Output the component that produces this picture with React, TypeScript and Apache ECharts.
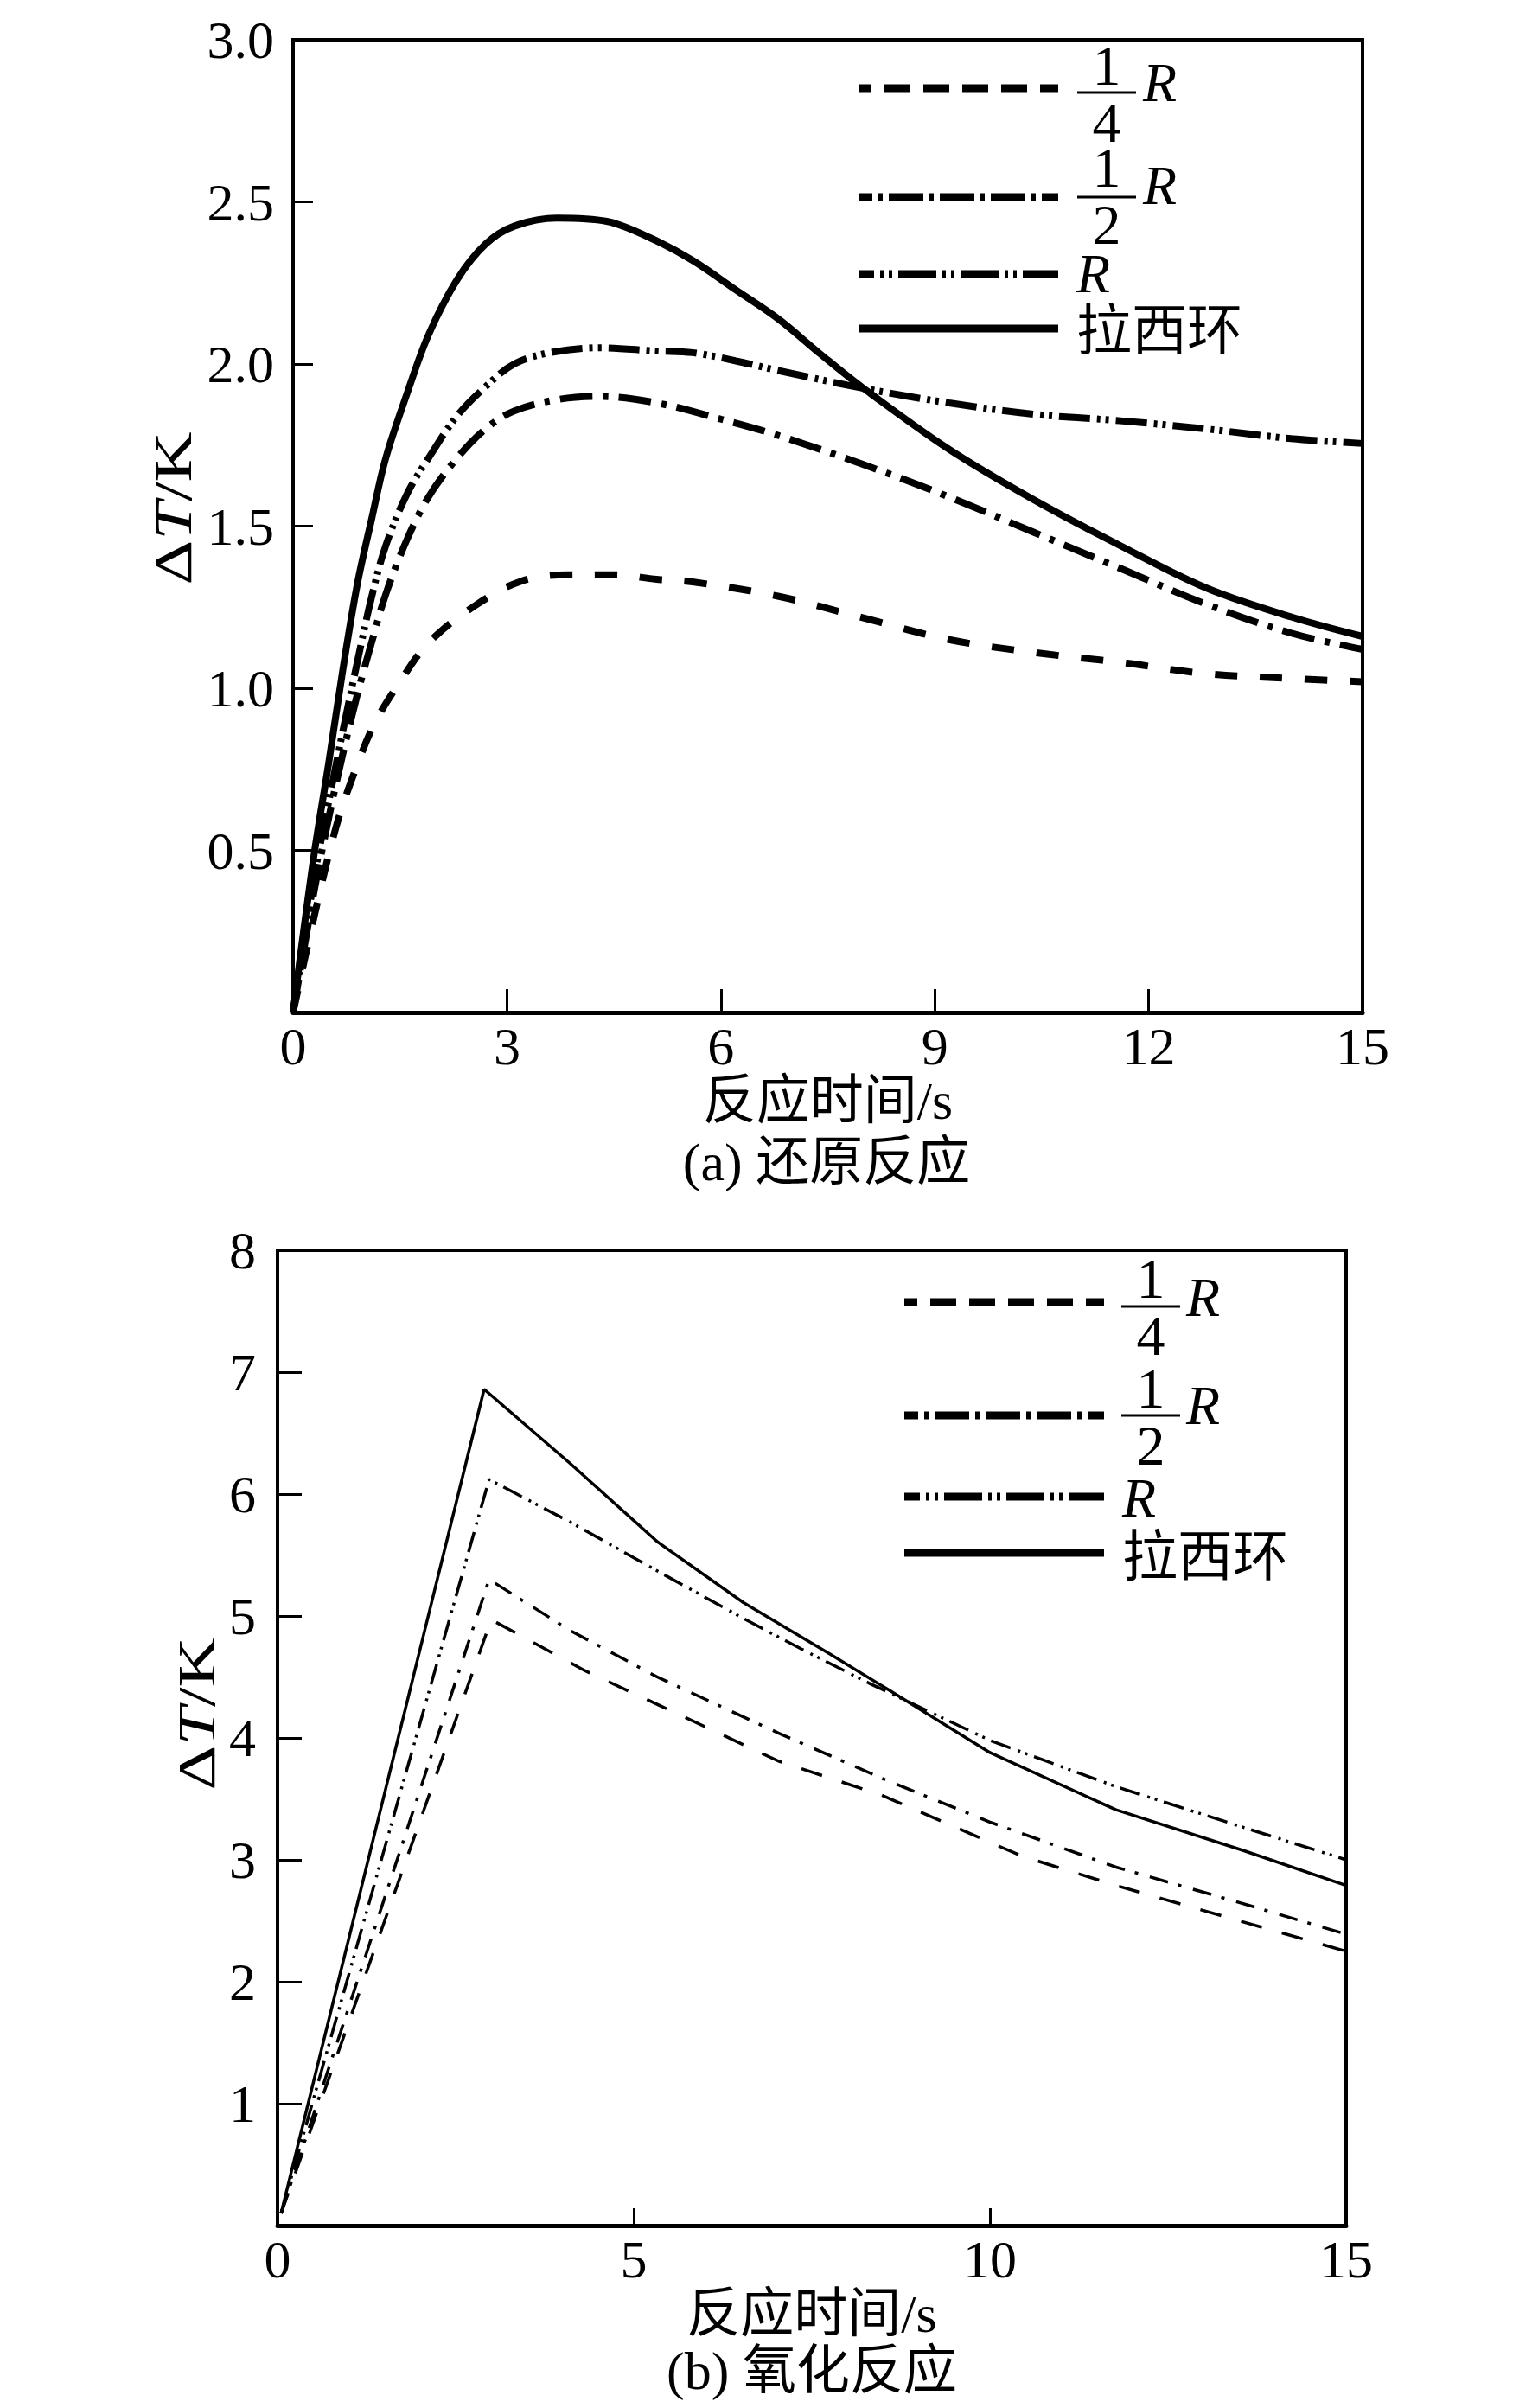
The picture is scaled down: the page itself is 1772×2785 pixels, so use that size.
import React, { useEffect, useRef } from "react";
import * as echarts from "echarts";

// ---------- data: (a) reduction reaction ----------
const A_T_QUARTER = [0, 0.3, 0.6, 0.86, 1.14, 1.5, 1.9, 2.56, 3.2, 3.85, 4.5, 5.1, 5.6, 6.8, 8, 9.2, 10.4, 11.6, 12.8, 14, 15];
const A_V_QUARTER = [0, 0.3, 0.57, 0.74, 0.89, 1.02, 1.14, 1.256, 1.33, 1.35, 1.35, 1.336, 1.328, 1.284, 1.217, 1.15, 1.11, 1.08, 1.045, 1.03, 1.02];

const A_T_HALF = [0, 0.3, 0.5, 0.7, 0.9, 1.1, 1.3, 1.6, 1.9, 2.3, 2.7, 3.1, 3.7, 4.3, 5.1, 6.0, 6.8, 8, 9.2, 10.4, 11.6, 12.8, 14, 15];
const A_V_HALF = [0, 0.38, 0.6, 0.8, 0.98, 1.14, 1.29, 1.46, 1.59, 1.71, 1.8, 1.855, 1.89, 1.9, 1.88, 1.83, 1.78, 1.69, 1.59, 1.48, 1.37, 1.26, 1.17, 1.12];

const A_T_R = [0, 0.3, 0.5, 0.7, 0.9, 1.1, 1.3, 1.6, 1.9, 2.3, 2.7, 3.1, 3.6, 4.3, 5.1, 5.6, 6.2, 6.8, 8, 9.2, 10.4, 11.6, 12.8, 14, 15];
const A_V_R = [0, 0.42, 0.65, 0.87, 1.08, 1.28, 1.44, 1.6, 1.71, 1.84, 1.93, 2.0, 2.035, 2.05, 2.04, 2.035, 2.01, 1.98, 1.925, 1.88, 1.845, 1.825, 1.8, 1.77, 1.755];

const A_T_RING = [0, 0.29, 0.5, 0.7, 0.9, 1.1, 1.3, 1.6, 1.9, 2.3, 2.7, 3.1, 3.7, 4.4, 5.0, 5.6, 6.2, 6.8, 7.4, 8, 9.2, 10.4, 11.6, 12.8, 14, 15];
const A_V_RING = [0, 0.48, 0.77, 1.06, 1.32, 1.52, 1.71, 1.91, 2.09, 2.26, 2.37, 2.425, 2.45, 2.44, 2.39, 2.32, 2.23, 2.14, 2.03, 1.925, 1.737, 1.58, 1.44, 1.31, 1.22, 1.16];

// ---------- data: (b) oxidation reaction ----------
const B_T_QUARTER = [0.05, 3.0, 4.32, 5.57, 7.03, 8.48, 10.45, 11.77, 13.5, 15];
const B_V_QUARTER = [0.1, 4.97, 4.55, 4.21, 3.81, 3.53, 3.03, 2.79, 2.5, 2.25];

const B_T_HALF = [0.05, 2.97, 4.11, 5.33, 7.03, 8.48, 10, 11.77, 13.5, 15];
const B_V_HALF = [0.1, 5.3, 4.88, 4.5, 4.04, 3.67, 3.31, 2.94, 2.65, 2.39];

const B_T_R = [0.05, 2.97, 4.11, 5.33, 6.54, 7.35, 8.3, 10, 11.77, 13.54, 15];
const B_V_R = [0.1, 6.12, 5.77, 5.37, 4.98, 4.73, 4.45, 3.98, 3.6, 3.27, 3.0];

const B_T_RING = [0.05, 2.9, 4.11, 5.33, 6.54, 7.75, 8.56, 10, 11.77, 13.54, 15];
const B_V_RING = [0.1, 6.86, 6.25, 5.61, 5.11, 4.69, 4.4, 3.88, 3.41, 3.08, 2.79];

// ---------- labels ----------
const SERIES_NAMES = ["1/4R", "1/2R", "R", "拉西环"];
const FRACTIONS = ["1\n4", "1\n2"];
const X_TITLE = "反应时间/s";
const Y_TITLE = "Δ{i|T}/K";
const CAPTION_A = "(a) 还原反应";
const CAPTION_B = "(b) 氧化反应";

const SERIF = "Times New Roman, Liberation Serif, Noto Sans CJK SC, serif";
const BLACK = "#000";

const pairs = (t: number[], v: number[]) => t.map((x, i) => [x, v[i]]);

function legendItems(
  lineX1: number,
  lineX2: number,
  ys: number[],
  fracX: number,
  rX: number,
  fracRows: { mid: number; bar: number; r: number }[],
  rOnlyY: number,
  ringY: number,
  textX: number
) {
  const dashes: (number[] | null)[] = [
    [30, 15],
    [40, 7, 5, 7],
    [44, 7, 4, 6, 4, 7],
    null,
  ];
  const offsets = [15, 24, 26, 0];
  const els: any[] = [];
  ys.forEach((y, i) => {
    els.push({
      type: "line",
      shape: { x1: lineX1, y1: y, x2: lineX2, y2: y },
      style: {
        stroke: BLACK,
        lineWidth: 9,
        lineDash: dashes[i] || undefined,
        lineDashOffset: offsets[i],
      },
    });
  });
  const italicR = (x: number, y: number) => ({
    type: "text",
    x,
    y,
    style: {
      text: "R",
      fontSize: 64,
      lineHeight: 44,
      fontStyle: "italic",
      fontFamily: SERIF,
      fill: BLACK,
      align: "left",
      verticalAlign: "middle",
    },
  });
  fracRows.forEach((row, i) => {
    els.push({
      type: "text",
      x: fracX + 34,
      y: row.mid,
      style: {
        text: FRACTIONS[i],
        fontSize: 66,
        lineHeight: 66,
        fontFamily: SERIF,
        fill: BLACK,
        align: "center",
        verticalAlign: "middle",
      },
    });
    els.push({
      type: "line",
      shape: { x1: fracX, y1: row.bar, x2: fracX + 68, y2: row.bar },
      style: { stroke: BLACK, lineWidth: 3 },
    });
    els.push(italicR(rX, row.r));
  });
  els.push(italicR(textX, rOnlyY));
  els.push({
    type: "text",
    x: textX,
    y: ringY,
    style: {
      text: SERIES_NAMES[3],
      fontSize: 64,
      lineHeight: 50,
      fontFamily: SERIF,
      fill: BLACK,
      align: "left",
      verticalAlign: "middle",
    },
  });
  return els;
}

function yTitle(x: number, y: number) {
  return {
    type: "text",
    x,
    y,
    rotation: Math.PI / 2,
    scaleX: 1.3,
    style: {
      text: Y_TITLE,
      fontSize: 62,
      fontFamily: SERIF,
      fill: BLACK,
      align: "center",
      verticalAlign: "middle",
      rich: {
        i: { fontSize: 62, fontFamily: SERIF, fontStyle: "italic", fill: BLACK },
      },
    },
  };
}

function caption(text: string, x: number, y: number) {
  return {
    type: "text",
    x,
    y,
    style: { text, fontSize: 62, fontFamily: SERIF, fill: BLACK, align: "center", verticalAlign: "middle" },
  };
}

const axisCommon = (tickLen: number, lineW: number) => ({
  axisLine: { show: true, onZero: false, lineStyle: { color: BLACK, width: lineW } },
  axisTick: { show: true, inside: true, length: tickLen, lineStyle: { color: BLACK, width: 3 } },
  splitLine: { show: false },
});

function buildOption() {
  const labelStyle = { fontSize: 62, fontFamily: SERIF, color: BLACK };
  const mkSeries = (
    name: string,
    data: number[][],
    idx: number,
    dash: any,
    width: number,
    smooth: boolean | number
  ) => ({
    name,
    type: "line",
    xAxisIndex: idx,
    yAxisIndex: idx,
    data,
    showSymbol: false,
    symbol: "none",
    smooth,
    lineStyle: { color: BLACK, width, type: dash, cap: "butt" },
    z: 3,
  });

  return {
    animation: false,
    backgroundColor: "#fff",
    grid: [
      { left: 339, top: 46, width: 1237, height: 1125, show: true, borderColor: BLACK, borderWidth: 4, backgroundColor: "transparent" },
      { left: 321, top: 1446, width: 1236, height: 1128, show: true, borderColor: BLACK, borderWidth: 4, backgroundColor: "transparent" },
    ],
    xAxis: [
      {
        type: "value",
        gridIndex: 0,
        min: 0,
        max: 15,
        interval: 3,
        ...axisCommon(27, 5),
        axisLabel: { ...labelStyle, margin: 8 },
        name: X_TITLE,
        nameLocation: "middle",
        nameGap: 60,
        nameTextStyle: { fontSize: 62, fontFamily: SERIF, color: BLACK },
      },
      {
        type: "value",
        gridIndex: 1,
        min: 0,
        max: 15,
        interval: 5,
        ...axisCommon(20, 5),
        axisLabel: { ...labelStyle, margin: 8 },
        name: X_TITLE,
        nameLocation: "middle",
        nameGap: 70,
        nameTextStyle: { fontSize: 62, fontFamily: SERIF, color: BLACK },
      },
    ],
    yAxis: [
      {
        type: "value",
        gridIndex: 0,
        min: 0,
        max: 3,
        interval: 0.5,
        ...axisCommon(23, 4),
        axisLabel: {
          ...labelStyle,
          margin: 22,
          formatter: (v: number) => (v === 0 ? "" : v.toFixed(1)),
        },
      },
      {
        type: "value",
        gridIndex: 1,
        min: 0,
        max: 8,
        interval: 1,
        ...axisCommon(28, 4),
        axisLabel: {
          ...labelStyle,
          margin: 25,
          formatter: (v: number) => (v === 0 ? "" : String(v)),
        },
      },
    ],
    series: [
      mkSeries(SERIES_NAMES[0], pairs(A_T_QUARTER, A_V_QUARTER), 0, [26, 26], 8, 0.35),
      mkSeries(SERIES_NAMES[1], pairs(A_T_HALF, A_V_HALF), 0, [38, 12, 6, 12], 8, 0.35),
      mkSeries(SERIES_NAMES[2], pairs(A_T_R, A_V_R), 0, [36, 8, 4, 6, 4, 8], 8, 0.35),
      mkSeries(SERIES_NAMES[3], pairs(A_T_RING, A_V_RING), 0, "solid", 8, 0.35),
      mkSeries(SERIES_NAMES[0], pairs(B_T_QUARTER, B_V_QUARTER), 1, [25, 24], 3.5, false),
      mkSeries(SERIES_NAMES[1], pairs(B_T_HALF, B_V_HALF), 1, [22, 12, 4, 14], 3.5, false),
      mkSeries(SERIES_NAMES[2], pairs(B_T_R, B_V_R), 1, [24, 9, 3, 6, 3, 8], 3.5, false),
      mkSeries(SERIES_NAMES[3], pairs(B_T_RING, B_V_RING), 1, "solid", 3.5, false),
    ],
    graphic: [
      ...legendItems(
        993,
        1224,
        [102, 228, 317, 380],
        1246,
        1322,
        [
          { mid: 108, bar: 107, r: 95 },
          { mid: 226, bar: 228, r: 214 },
        ],
        316,
        382,
        1245
      ),
      ...legendItems(
        1046,
        1277,
        [1506, 1637, 1731, 1796],
        1297,
        1372,
        [
          { mid: 1511, bar: 1511, r: 1500 },
          { mid: 1638, bar: 1637, r: 1625 },
        ],
        1732,
        1800,
        1298
      ),
      yTitle(200, 588),
      yTitle(227, 1982),
      caption(CAPTION_A, 956, 1344),
      caption(CAPTION_B, 939, 2742),
    ],
  };
}

export default function App() {
  const ref = useRef<HTMLDivElement>(null);
  useEffect(() => {
    document.body.style.margin = "0";
    const chart = echarts.init(ref.current as HTMLDivElement, null, { renderer: "svg" });
    chart.setOption(buildOption() as any);
    return () => {
      chart.dispose();
    };
  }, []);
  return <div ref={ref} style={{ width: 1772, height: 2785, background: "#fff" }} />;
}
